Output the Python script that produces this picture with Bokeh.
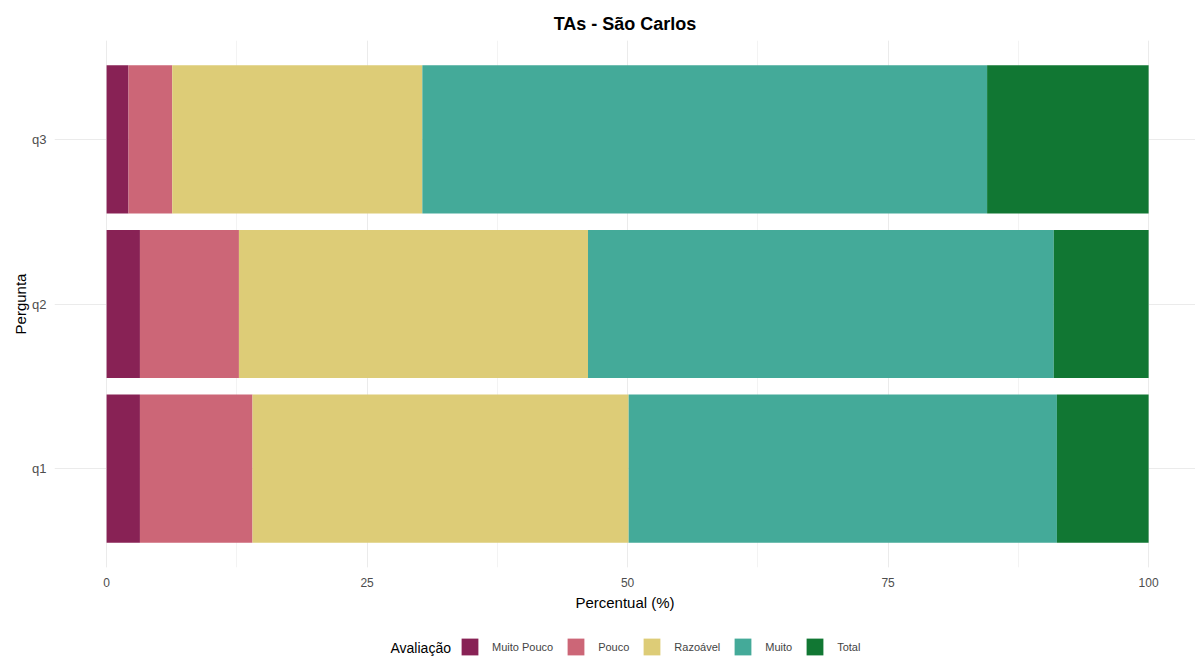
from bokeh.plotting import figure
from bokeh.layouts import column
from bokeh.models import (Range1d, FixedTicker, SingleIntervalTicker, Legend,
                          LegendItem, ColumnDataSource, Label)
from bokeh.embed import file_html
from bokeh.resources import INLINE

# ---- data ----
perguntas = ["q1", "q2", "q3"]
niveis = ["Muito Pouco", "Pouco", "Razoável", "Muito", "Total"]
muito_pouco = [3.2, 3.2, 2.1]
pouco = [10.8, 9.5, 4.2]
razoavel = [36.1, 33.5, 24.0]
muito = [41.1, 44.7, 54.2]
total = [8.8, 9.1, 15.5]
cores = ["#882255", "#CC6677", "#DDCC77", "#44AA99", "#117733"]
x_ticks = [0, 25, 50, 75, 100]

FONT = "Liberation Sans"

keys = ["mp", "p", "r", "m", "t"]
pos = [i + 1 for i in range(len(perguntas))]
source = ColumnDataSource(dict(pos=pos, pergunta=perguntas, mp=muito_pouco,
                               p=pouco, r=razoavel, m=muito, t=total))

W = 1195
p = figure(width=W, height=620, output_backend="svg", toolbar_location=None,
           x_range=Range1d(-5, 104.5), y_range=Range1d(0.4, 3.6),
           title="TAs - São Carlos")
p.outline_line_color = None
p.background_fill_color = "white"
p.border_fill_color = "white"
p.min_border_left = 54
p.min_border_right = 0
p.min_border_top = 40
p.min_border_bottom = 53

renderers = p.hbar_stack(keys, y="pos", height=0.9, color=cores, line_color=None,
                         source=source)

# title
p.title.align = "center"
p.title.text_font = FONT
p.title.text_font_size = "18px"
p.title.text_font_style = "bold"
p.title.text_color = "black"
p.title.standoff = 13

# x axis
p.xaxis.ticker = SingleIntervalTicker(interval=25, num_minor_ticks=2)
p.xaxis.axis_label = "Percentual (%)"
p.xaxis.axis_label_text_font = FONT
p.xaxis.axis_label_text_font_size = "15px"
p.xaxis.axis_label_text_font_style = "normal"
p.xaxis.axis_label_text_color = "black"
p.xaxis.axis_label_standoff = 4
p.xaxis.major_label_text_font = FONT
p.xaxis.major_label_text_font_size = "12px"
p.xaxis.major_label_text_color = "#4D4D4D"
p.xaxis.major_label_standoff = 4
p.xaxis.axis_line_color = None
p.xaxis.major_tick_line_color = None
p.xaxis.minor_tick_line_color = None

# y axis
p.yaxis.ticker = FixedTicker(ticks=pos)
p.yaxis.major_label_overrides = {k: v for k, v in zip(pos, perguntas)}
p.yaxis.axis_label = "Pergunta"
p.yaxis.axis_label_text_font = FONT
p.yaxis.axis_label_text_font_size = "15px"
p.yaxis.axis_label_text_font_style = "normal"
p.yaxis.axis_label_text_color = "black"
p.yaxis.axis_label_standoff = 0
p.yaxis.major_label_text_font = FONT
p.yaxis.major_label_text_font_size = "13px"
p.yaxis.major_label_text_color = "#4D4D4D"
p.yaxis.major_label_standoff = 2
p.yaxis.axis_line_color = None
p.yaxis.major_tick_line_color = None
p.yaxis.minor_tick_line_color = None

# grid
p.xgrid.grid_line_color = "#EBEBEB"
p.xgrid.grid_line_width = 1
p.xgrid.minor_grid_line_color = "#EBEBEB"
p.xgrid.minor_grid_line_width = 0.6
p.ygrid.grid_line_color = "#EBEBEB"
p.ygrid.grid_line_width = 1

# ---- legend strip (separate figure so nothing is clipped) ----
lg = figure(width=W, height=39, output_backend="svg", toolbar_location=None,
            x_range=Range1d(0, 1), y_range=Range1d(10, 11),
            x_axis_type=None, y_axis_type=None)
lg.min_border = 0
lg.outline_line_color = None
lg.xgrid.visible = False
lg.ygrid.visible = False
lg_renderers = lg.hbar_stack(keys, y="pos", height=0.9, color=cores,
                             line_color=None, source=source)

items = [LegendItem(label=n, renderers=[r]) for n, r in zip(niveis, lg_renderers)]
legend = Legend(items=items, orientation="horizontal", location=(405, 2))
legend.label_text_font = FONT
legend.label_text_font_size = "11px"
legend.glyph_width = 21
legend.glyph_height = 21
legend.label_standoff = 12
legend.spacing = 12
legend.padding = 0
legend.margin = 0
legend.border_line_color = None
legend.background_fill_alpha = 0
lg.add_layout(legend)

lab = Label(x=336, y=12, x_units="screen", y_units="screen", text="Avaliação",
            text_font=FONT, text_font_size="14px", text_color="black",
            text_baseline="middle", text_align="left")
lg.add_layout(lab)

layout = column(p, lg, spacing=0)
open("out.html", "w").write(file_html(layout, INLINE))
